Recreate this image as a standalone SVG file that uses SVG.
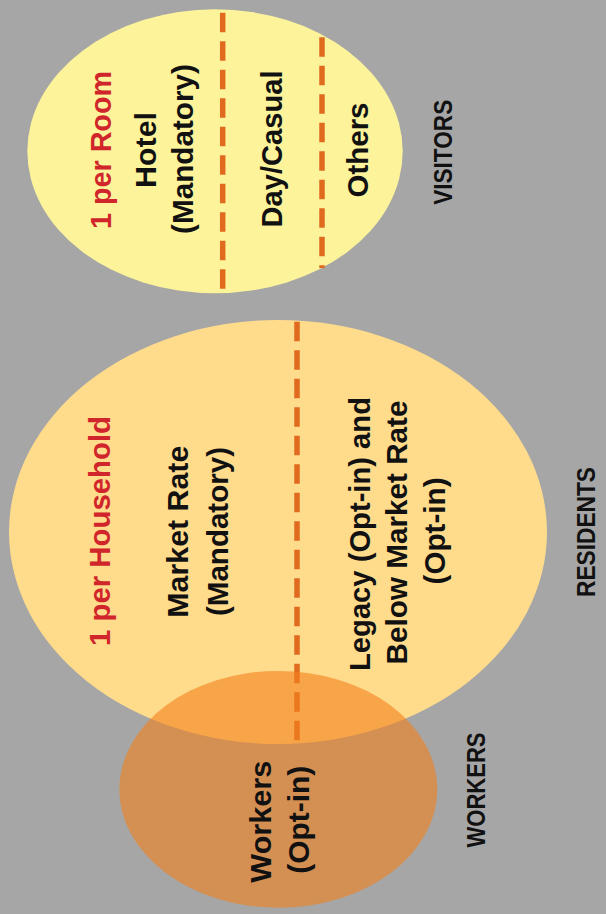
<svg xmlns="http://www.w3.org/2000/svg" width="606" height="914" viewBox="0 0 606 914">
  <style>
    .t { font-family: "Liberation Sans", Arial, sans-serif; font-weight: bold; font-size: 29px; fill: #111; text-anchor: middle; }
    .red { fill: #d0252b; }
    .lbl { font-family: "Liberation Sans", Arial, sans-serif; font-weight: bold; font-size: 26px; fill: #111; text-anchor: middle; }
    .div { stroke: #e06b1f; stroke-width: 5.5; stroke-dasharray: 19.5 9; fill: none; }
  </style>
  <rect width="606" height="914" fill="#a6a6a6"/>

  <g id="residents">
    <ellipse cx="278" cy="532" rx="269" ry="212" fill="#ffdb8c"/>
    <text class="t red" transform="translate(110,531) rotate(-90)" textLength="230" lengthAdjust="spacingAndGlyphs">1 per Household</text>
    <text class="t" transform="translate(188.3,531.7) rotate(-90)" textLength="172" lengthAdjust="spacingAndGlyphs">Market Rate</text>
    <text class="t" transform="translate(228,531.5) rotate(-90)" textLength="169" lengthAdjust="spacingAndGlyphs">(Mandatory)</text>
    <text class="t" transform="translate(370,534) rotate(-90)" textLength="274" lengthAdjust="spacingAndGlyphs">Legacy (Opt-in) and</text>
    <text class="t" transform="translate(406.7,532.5) rotate(-90)" textLength="264" lengthAdjust="spacingAndGlyphs">Below Market Rate</text>
    <text class="t" transform="translate(445,531) rotate(-90)" textLength="107" lengthAdjust="spacingAndGlyphs">(Opt-in)</text>
    <text class="lbl" transform="translate(595,532) rotate(-90)" textLength="130" lengthAdjust="spacingAndGlyphs">RESIDENTS</text>
  </g>

  <g id="visitors">
    <ellipse cx="215" cy="151.3" rx="187.7" ry="142" fill="#fcf39b"/>
    <text class="t red" transform="translate(111,150) rotate(-90)" textLength="158" lengthAdjust="spacingAndGlyphs">1 per Room</text>
    <text class="t" transform="translate(155.7,150) rotate(-90)" textLength="76" lengthAdjust="spacingAndGlyphs">Hotel</text>
    <text class="t" transform="translate(192.5,149) rotate(-90)" textLength="170" lengthAdjust="spacingAndGlyphs">(Mandatory)</text>
    <text class="t" transform="translate(281.5,149) rotate(-90)" textLength="157" lengthAdjust="spacingAndGlyphs">Day/Casual</text>
    <text class="t" transform="translate(368.3,150) rotate(-90)" textLength="95" lengthAdjust="spacingAndGlyphs">Others</text>
    <text class="lbl" transform="translate(451.7,152.3) rotate(-90)" textLength="105" lengthAdjust="spacingAndGlyphs">VISITORS</text>
  </g>

  <g id="dividers">
    <line class="div" x1="222.7" y1="12.7" x2="222.7" y2="293"/>
    <line class="div" x1="322" y1="37.3" x2="322" y2="268"/>
    <line class="div" x1="297" y1="321.7" x2="297" y2="740.5"/>
  </g>

  <g id="workers">
    <ellipse cx="278.3" cy="789.3" rx="159" ry="118.4" fill="#f4801c" fill-opacity="0.6"/>
    <text class="t" transform="translate(270.7,821.7) rotate(-90)" textLength="122" lengthAdjust="spacingAndGlyphs">Workers</text>
    <text class="t" transform="translate(309,819.7) rotate(-90)" textLength="108" lengthAdjust="spacingAndGlyphs">(Opt-in)</text>
    <text class="lbl" transform="translate(485,790) rotate(-90)" textLength="115" lengthAdjust="spacingAndGlyphs">WORKERS</text>
  </g>
</svg>
